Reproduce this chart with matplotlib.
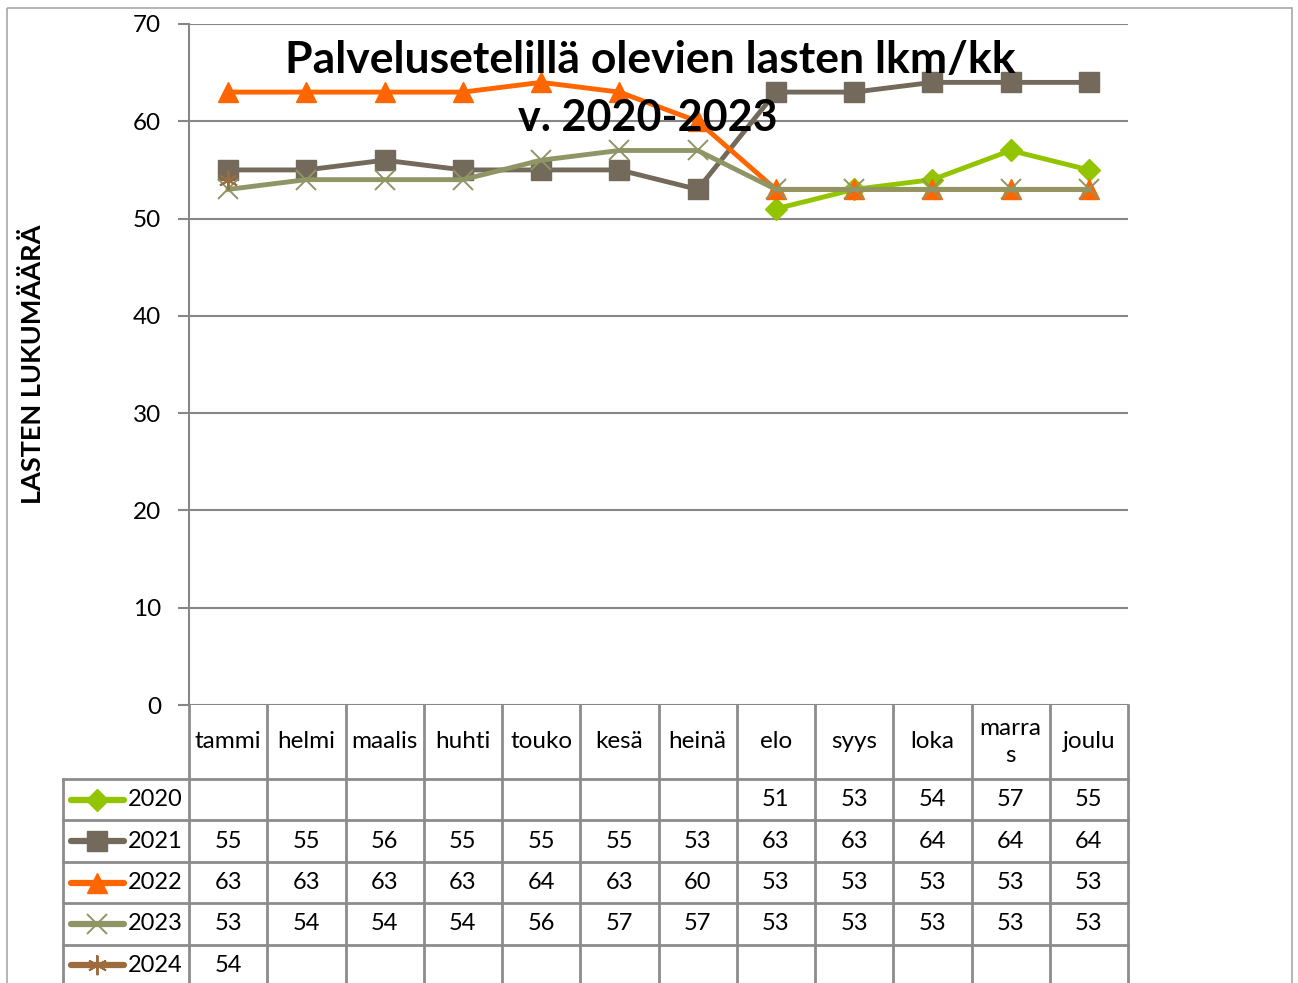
import numpy as np
import matplotlib.pyplot as plt
from matplotlib.patches import Rectangle

# data
kuukaudet = ["tammi", "helmi", "maalis", "huhti", "touko", "kesä", "heinä",
             "elo", "syys", "loka", "marra\ns", "joulu"]
vuodet = ["2020", "2021", "2022", "2023", "2024"]
nan = np.nan
v2020 = [nan, nan, nan, nan, nan, nan, nan, 51, 53, 54, 57, 55]
v2021 = [55, 55, 56, 55, 55, 55, 53, 63, 63, 64, 64, 64]
v2022 = [63, 63, 63, 63, 64, 63, 60, 53, 53, 53, 53, 53]
v2023 = [53, 54, 54, 54, 56, 57, 57, 53, 53, 53, 53, 53]
v2024 = [54, nan, nan, nan, nan, nan, nan, nan, nan, nan, nan, nan]
sarjat = [v2020, v2021, v2022, v2023, v2024]

tyylit = [
    dict(color="#92C500", marker="D", markersize=11, lw=3.5),
    dict(color="#736A5B", marker="s", markersize=14, lw=3.5),
    dict(color="#FF6600", marker="^", markersize=14, lw=3.5),
    dict(color="#8F9565", marker="x", markersize=14, lw=3.5, mew=1.4),
    dict(color="#9C6B3E", marker=(6, 2, 0), markersize=14, lw=3.5, mew=1.4),
]

plt.rcParams["font.family"] = ["Lato", "DejaVu Sans"]
W, H = 1298, 983
fig = plt.figure(figsize=(W / 100, H / 100), dpi=100)

# pixel helper axes covering whole figure
bg = fig.add_axes([0, 0, 1, 1])
bg.set_xlim(0, W)
bg.set_ylim(H, 0)
bg.axis("off")
bg.add_patch(Rectangle((7, 8), 1285, 1000, fill=False, ec="#A8A8A8", lw=1.2))

x0, x1, ytop, ybot = 189, 1128, 24, 705
ax = fig.add_axes([x0 / W, 1 - ybot / H, (x1 - x0) / W, (ybot - ytop) / H])
ax.set_xlim(-0.5, 11.5)
ax.set_ylim(0, 70)
ax.set_yticks(range(0, 71, 10))
ax.yaxis.grid(True, color="#878787", lw=1.5)
ax.set_axisbelow(True)
ax.set_xticks([])
for s in ["top", "right", "bottom"]:
    ax.spines[s].set_visible(False)
ax.spines["left"].set_color("#878787")
ax.spines["left"].set_linewidth(1.5)
ax.tick_params(axis="y", length=8, color="#878787", width=1.5, labelsize=17.5, pad=12)
ax.set_facecolor("none")

xs = np.arange(12)
for vals, st in zip(sarjat, tyylit):
    ax.plot(xs, vals, clip_on=False, **st)
ax.plot(xs[:1], v2024[:1], color="#9C6B3E", marker="|", markersize=14, mew=1.4, ls="none", clip_on=False)

fig.text(650 / W, 1 - 60 / H, "Palvelusetelillä olevien lasten lkm/kk", ha="center", va="center",
         fontsize=32, fontweight="bold", zorder=10)
fig.text(648 / W, 1 - 118 / H, "v. 2020-2023", ha="center", va="center",
         fontsize=31, fontweight="bold", zorder=10)
fig.text(33 / W, 1 - 364 / H, "LASTEN LUKUMÄÄRÄ", rotation=90, ha="center", va="center",
         fontsize=19.5, fontweight="bold")

# data table
cw = (x1 - x0) / 12
rivit = [705, 779, 820, 862, 903, 945, 990]
gc = "#8C8C8C"
for i in range(13):
    bg.plot([x0 + i * cw] * 2, [705, 990], color=gc, lw=2, clip_on=False)
for y in rivit[1:-1]:
    bg.plot([63, x1], [y, y], color=gc, lw=2)
bg.plot([63, 63], [779, 990], color=gc, lw=2, clip_on=False)

for i, k in enumerate(kuukaudet):
    bg.text(x0 + (i + 0.5) * cw, 742, k, ha="center", va="center", fontsize=17.5, linespacing=1.3)

for r, (vuosi, vals, st) in enumerate(zip(vuodet, sarjat, tyylit)):
    yc = (rivit[r + 1] + rivit[r + 2]) / 2 if r < 4 else 965
    bg.plot([71, 124], [yc, yc], color=st["color"], lw=4.5, solid_capstyle="round")
    bg.plot([97], [yc], color=st["color"], marker=st["marker"], markersize=st["markersize"],
            mew=st.get("mew", 1), ls="none")
    if vuosi == "2024":
        bg.plot([97], [yc], color=st["color"], marker="|", markersize=14, mew=1.4)
    bg.text(128, yc, vuosi, ha="left", va="center", fontsize=17)
    for i, v in enumerate(vals):
        if not np.isnan(v):
            bg.text(x0 + (i + 0.5) * cw, yc, str(int(v)), ha="center", va="center", fontsize=17)

fig.savefig("out.png", dpi=100)
